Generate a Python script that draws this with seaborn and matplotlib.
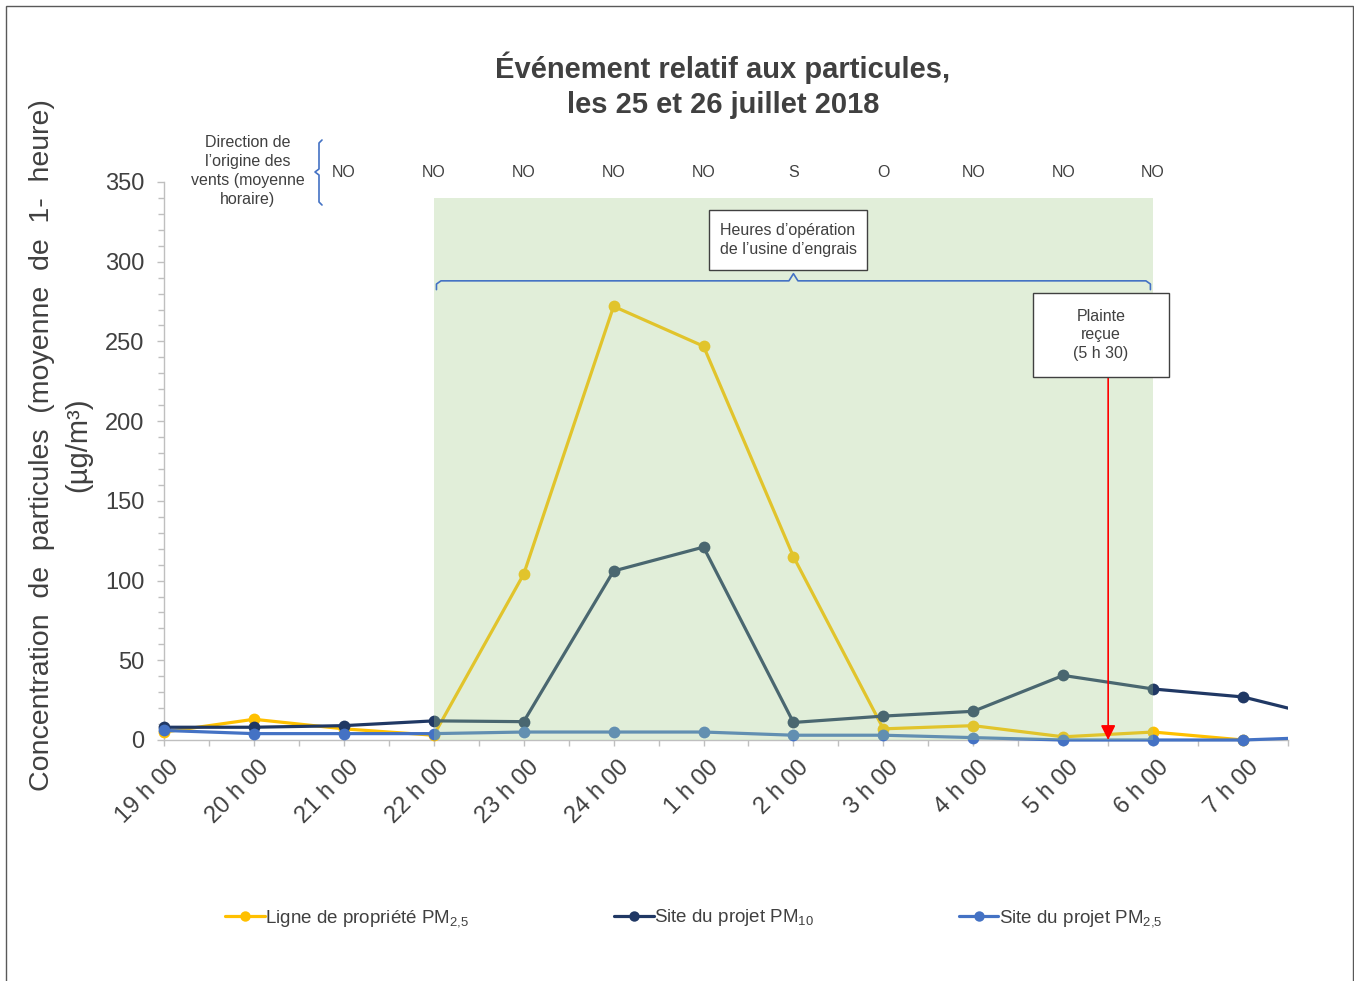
import numpy as np
import pandas as pd
import matplotlib
matplotlib.use("Agg")
import matplotlib.pyplot as plt
import matplotlib.transforms as mtransforms
from matplotlib.patches import Rectangle
from matplotlib.lines import Line2D
import seaborn as sns

# Hourly observations, 25-26 July 2018
hours = ["19 h 00", "20 h 00", "21 h 00", "22 h 00", "23 h 00", "24 h 00", "1 h 00",
         "2 h 00", "3 h 00", "4 h 00", "5 h 00", "6 h 00", "7 h 00", "8 h 00"]
prop_line_pm25 = [5, 13, 7, 3, 104, 272, 247, 115, 7, 9, 2, 5, 0, np.nan]
site_pm10 = [8, 8, 9, 12, 11.5, 106, 121, 11, 15, 18, 40.5, 32, 27, 13]
site_pm25 = [6, 4, 4, 4, 5, 5, 5, 3, 3, 1.5, 0, 0, 0, 2]

series_names = ["Ligne de propriété PM$_{2{,}5}$",
                "Site du projet PM$_{10}$",
                "Site du projet PM$_{2{,}5}$"]
series_colors = ["#ffc000", "#203864", "#4472c4"]

# Hourly wind direction (21 h 00 to 6 h 00)
wind_start = 2
wind_dirs = ["NO", "NO", "NO", "NO", "NO", "S", "O", "NO", "NO", "NO"]

# Plant operating hours (22 h 00 to 6 h 00) and complaint time (5 h 30)
op_start, op_end, op_top = 3, 11, 340
complaint_pos = 10.5

sns.set_style("white")
plt.rcParams["font.family"] = ["Liberation Sans", "DejaVu Sans"]
plt.rcParams["mathtext.fontset"] = "custom"
plt.rcParams["mathtext.rm"] = "Liberation Sans"
plt.rcParams["mathtext.it"] = "Liberation Sans:italic"
plt.rcParams["mathtext.bf"] = "Liberation Sans:bold"

TXT = "#404040"
W, H = 1354, 981
fig = plt.figure(figsize=(W / 100, H / 100), dpi=100)


def fx(px):
    return px / W


def fy(py):
    return 1 - py / H


ax = fig.add_axes([fx(164), fy(740), fx(1288) - fx(164), fy(182) - fy(740)])

pos = np.arange(len(hours))
df = pd.concat([
    pd.DataFrame({"pos": pos, "conc": vals, "serie": name})
    for name, vals in zip(series_names, [prop_line_pm25, site_pm10, site_pm25])
], ignore_index=True)

sns.lineplot(data=df, x="pos", y="conc", hue="serie", hue_order=series_names,
             palette=series_colors, marker="o", markersize=8.5, markeredgewidth=0,
             linewidth=2.3, ax=ax, legend=False, zorder=3)

clip_rect = Rectangle((-0.03, -0.05), 1.03, 1.1, transform=ax.transAxes)
for ln in ax.get_lines():
    ln.set_clip_path(clip_rect)

# operating-hours shading laid over the curves
ax.add_patch(Rectangle((op_start, 0), op_end - op_start, op_top,
                       facecolor=(164 / 255, 205 / 255, 139 / 255), alpha=0.32,
                       edgecolor="none", zorder=4))

ax.set_xlim(0, 12.5)
ax.set_ylim(0, 350)
ax.set_xticks(range(13))
ax.set_xticklabels(hours[:13], rotation=45, ha="right", va="top",
                   rotation_mode="anchor")
ax.set_xticks(np.arange(0.5, 12.6, 1), minor=True)
ax.set_yticks(range(0, 351, 50))
ax.set_yticks(range(0, 351, 10), minor=True)
ax.set_xlabel("")
ax.set_ylabel("")
ax.tick_params(axis="both", which="both", bottom=True, left=True, direction="out",
               color="#bfbfbf", labelcolor=TXT, labelsize=17)
ax.tick_params(axis="x", which="both", length=4, width=1, pad=8)
ax.tick_params(axis="y", which="major", length=5, width=1, pad=9)
ax.tick_params(axis="y", which="minor", length=4, width=1)
shift = mtransforms.ScaledTranslation(3 / 72, 0, fig.dpi_scale_trans)
for lbl in ax.get_xticklabels():
    lbl.set_transform(lbl.get_transform() + shift)
for side in ["top", "right"]:
    ax.spines[side].set_visible(False)
for side in ["left", "bottom"]:
    ax.spines[side].set_color("#bfbfbf")
    ax.spines[side].set_linewidth(1)
ax.set_facecolor("none")

# wind directions above the plot
for i, d in enumerate(wind_dirs):
    ax.text(wind_start + i, 356, d, ha="center", va="center", fontsize=11.5,
            color=TXT, clip_on=False)
fig.text(fx(248), fy(171), "Direction de\nl’origine des\nvents (moyenne\nhoraire)",
         ha="center", va="center", fontsize=11.5, color=TXT, linespacing=1.32)
brace_v = [(322, 140), (319, 143), (319, 169), (315, 172), (319, 175), (319, 202), (322, 205)]
fig.add_artist(Line2D([fx(p[0]) for p in brace_v], [fy(p[1]) for p in brace_v],
                      transform=fig.transFigure, color="#4472c4", lw=1.2))

# brace spanning the operating hours
bx0, bx1, bmid = op_start + 0.03, op_end - 0.03, (op_start + op_end) / 2
brace_h_x = [bx0, bx0, bx0 + 0.05, bmid - 0.05, bmid, bmid + 0.05, bx1 - 0.05, bx1, bx1]
brace_h_y = [282.5, 286, 288, 288, 292.5, 288, 288, 286, 282.5]
ax.plot(brace_h_x, brace_h_y, color="#4472c4", lw=1.2, zorder=5, clip_on=False)

# text boxes
def boxed_text(x0, y0, x1, y1, text):
    fig.add_artist(Rectangle((fx(x0), fy(y1)), fx(x1) - fx(x0), fy(y0) - fy(y1),
                             transform=fig.transFigure, facecolor="white",
                             edgecolor="#404040", lw=1, zorder=10))
    fig.text(fx((x0 + x1) / 2), fy((y0 + y1) / 2), text, ha="center", va="center",
             fontsize=11.5, color=TXT, linespacing=1.32, zorder=11)


boxed_text(709, 210, 867, 270, "Heures d’opération\nde l’usine d’engrais")
boxed_text(1033, 293, 1169, 377, "Plainte\nreçue\n(5 h 30)")

# complaint arrow
ax.annotate("", xy=(complaint_pos, 0), xytext=(complaint_pos, 228),
            arrowprops=dict(arrowstyle="-|>", color="red", lw=1.2, mutation_scale=22,
                            shrinkA=0, shrinkB=0),
            zorder=6, annotation_clip=False)

# titles
fig.text(fx(723), fy(85), "Événement relatif aux particules,\nles 25 et 26 juillet 2018",
         ha="center", va="center", fontsize=21, fontweight="bold", color=TXT,
         linespacing=1.33)
fig.text(fx(42), fy(445), "Concentration  de  particules  (moyenne  de  1-  heure)",
         rotation=90, ha="center", va="center", fontsize=20.5, color=TXT)
fig.text(fx(78), fy(445), "(µg/m³)", rotation=90, ha="center", va="center",
         fontsize=21, color=TXT)

# legend
handles = [Line2D([], [], color=c, lw=2.3, marker="o", markersize=7.5, markeredgewidth=0)
           for c in series_colors]
fig.legend(handles, series_names, loc="center", bbox_to_anchor=(fx(694), fy(918)),
           ncol=3, frameon=False, fontsize=13.5, handlelength=2.1, handletextpad=0.05,
           columnspacing=7.7, labelcolor=TXT)

# outer frame
fig.add_artist(Rectangle((fx(6), -0.01), fx(1353) - fx(6), fy(6) + 0.01,
                         transform=fig.transFigure, facecolor="none",
                         edgecolor="#595959", lw=1, zorder=20))

fig.savefig("out.png", dpi=100)
